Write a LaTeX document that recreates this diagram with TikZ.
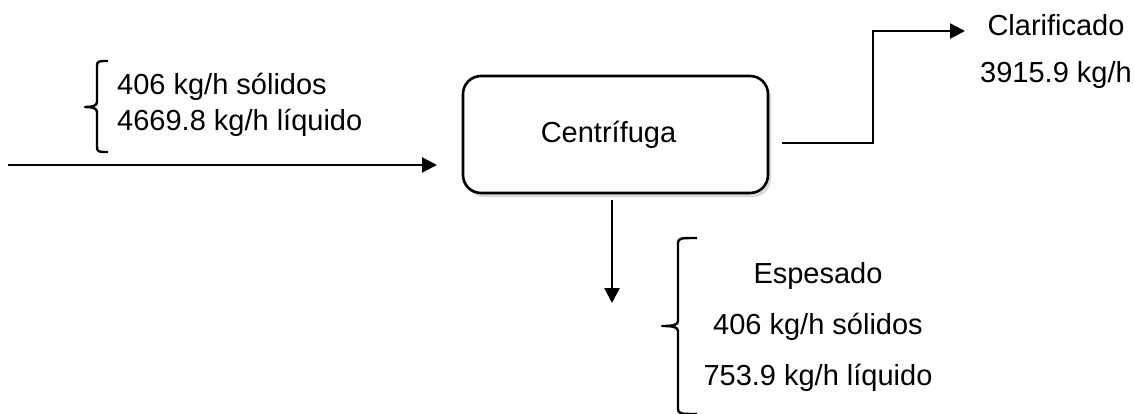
\documentclass[tikz,border=0pt]{standalone}
\usepackage{fontspec}
\setmainfont{Liberation Sans}
\usetikzlibrary{arrows.meta,shadows}
\begin{document}
\begin{tikzpicture}[x=1pt,y=-1pt,
  lbl/.style={inner sep=0pt,font=\fontsize{29}{35}\selectfont},
  flow/.style={line width=2.2pt,-{Triangle[length=15pt,width=15pt]}},
  bracket/.style={line width=2.4pt,line join=round},
  unit/.style={draw,fill=white,line width=2.6pt,rounded corners=18pt,minimum width=305pt,minimum height=117pt,inner sep=0pt,
    drop shadow={shadow xshift=3pt,shadow yshift=-4pt,opacity=0.3,fill=gray}}]
\useasboundingbox (0,0) rectangle (1134,414);
\clip (0,0) rectangle (1134,414);
% box
\node[unit] (box) at (615.5,134.5) {};
\node[lbl,anchor=base] (cen) at (608.5,143) {Centrífuga};
% input
\coordinate (inS) at (8,165);
\coordinate (inE) at (437,165);
\draw[flow] (inS) -- (inE);
\node[lbl,anchor=base west] (in1) at (117,95) {406 kg/h sólidos};
\node[lbl,anchor=base west] (in2) at (117,131) {4669.8 kg/h líquido};
\draw[bracket] (108,61) .. controls (99,61) and (97,61) .. (97,66) -- (97,102)
  .. controls (97,106) and (92,107) .. (85,107) .. controls (92,107) and (97,108) .. (97,112)
  -- (97,147) .. controls (97,152) and (99,152) .. (108,152);
% top output
\coordinate (o1) at (782,143);
\coordinate (o2) at (873,143);
\coordinate (o3) at (873,31);
\coordinate (o4) at (965,31);
\draw[flow,line join=miter] (o1) -- (o2) -- (o3) -- (o4);
\node[lbl,anchor=base] (cla) at (1056,36) {Clarificado};
\node[lbl,anchor=base] (cla2) at (1056,83) {3915.9 kg/h};
% bottom output
\coordinate (d1) at (612,200);
\coordinate (d2) at (612,303);
\draw[flow] (d1) -- (d2);
\draw[bracket] (697,238) .. controls (681,238) and (678,238) .. (678,243) -- (678,321)
  .. controls (678,325) and (673,326) .. (662,326) .. controls (673,326) and (678,327) .. (678,331)
  -- (678,409) .. controls (678,414) and (681,414) .. (697,414);
\node[lbl,anchor=base] (esp) at (818,283) {Espesado};
\node[lbl,anchor=base] (esp2) at (818,334) {406 kg/h sólidos};
\node[lbl,anchor=base] (esp3) at (818,385) {753.9 kg/h líquido};
\end{tikzpicture}
\end{document}
